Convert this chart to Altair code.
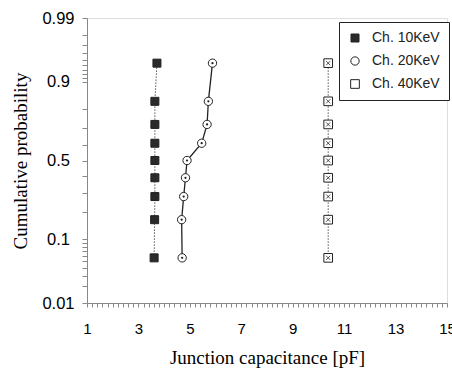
import altair as alt
import pandas as pd
from statistics import NormalDist

# ---- data ----
series = ["Ch. 10KeV", "Ch. 20KeV", "Ch. 40KeV"]
probs = [0.056, 0.167, 0.278, 0.389, 0.5, 0.611, 0.722, 0.833, 0.944]
cap_10 = [3.61, 3.63, 3.64, 3.64, 3.64, 3.64, 3.64, 3.64, 3.72]
cap_20 = [4.70, 4.68, 4.76, 4.83, 4.89, 5.46, 5.67, 5.72, 5.88]
cap_40 = [10.38, 10.38, 10.38, 10.38, 10.38, 10.38, 10.38, 10.38, 10.38]

y_major = [0.01, 0.1, 0.5, 0.9, 0.99]
y_minor = [0.02, 0.03, 0.04, 0.05, 0.06, 0.07, 0.08, 0.09,
           0.2, 0.3, 0.4, 0.6, 0.7, 0.8,
           0.91, 0.92, 0.93, 0.94, 0.95, 0.96, 0.97, 0.98]
x_labels = [1, 3, 5, 7, 9, 11, 13, 15]

nd = NormalDist()
rows = []
for s, caps in zip(series, [cap_10, cap_20, cap_40]):
    for i, (p, c) in enumerate(zip(probs, caps)):
        rows.append({"series": s, "p": p, "cap": c, "order": i})
df = pd.DataFrame(rows)

z_lo, z_hi = nd.inv_cdf(0.01), nd.inv_cdf(0.99)
y_vals = sorted([nd.inv_cdf(p) for p in y_major + y_minor])
label_expr = ""
for p in y_major:
    label_expr += f"abs(datum.value - ({nd.inv_cdf(p):.6f})) < 0.001 ? '{p}' : "
label_expr += "''"

x_vals = [round(1 + 0.2 * i, 1) for i in range(71)]
x_label_expr = ("indexof([" + ",".join(str(v) for v in x_labels) +
                "], round(datum.value*10)/10) >= 0 ? format(datum.value, 'd') : ''")

ink = "#222222"

x_enc = alt.X("cap:Q", scale=alt.Scale(domain=[1, 15], nice=False, zero=False),
              axis=alt.Axis(values=x_vals, labelExpr=x_label_expr, tickSize=4,
                            labelBaseline="alphabetic", labelPadding=26,
                            labelFontSize=15, labelFont="Liberation Sans",
                            labelFlush=False, labelOverlap=False, grid=False,
                            title="Junction capacitance [pF]", titleFont="Liberation Serif",
                            titleFontSize=19, titleFontWeight="normal",
                            titleBaseline="alphabetic", titleY=60))
y_enc = alt.Y("z:Q", scale=alt.Scale(domain=[z_lo, z_hi], nice=False, zero=False),
              axis=alt.Axis(values=y_vals, labelExpr=label_expr, tickSize=5,
                            labelAlign="center", labelPadding=24, labelFontSize=16.5,
                            labelFont="Liberation Sans", labelFlush=False,
                            labelOverlap=False, grid=False,
                            title="Cumulative probability", titleFont="Liberation Serif",
                            titleFontSize=19, titleFontWeight="normal",
                            titleX=-67, titleY=142.5, titleAngle=270,
                            titleBaseline="middle"))

legend = alt.Legend(title=None, orient="none", legendX=252, legendY=4,
                    strokeColor=ink, fillColor="white", padding=9, rowPadding=9,
                    labelFontSize=14, labelFont="Liberation Sans", labelColor=ink,
                    labelOffset=10, cornerRadius=0, symbolStrokeWidth=1)

base = alt.Chart(df).transform_calculate(z="quantileNormal(datum.p)")

line10 = base.transform_filter(alt.datum.series == series[0]).mark_line(
    color="#555555", strokeWidth=1, strokeDash=[1.5, 1.5]).encode(x=x_enc, y=y_enc, order="order:Q")
line20 = base.transform_filter(alt.datum.series == series[1]).mark_line(
    color=ink, strokeWidth=1.3).encode(x=x_enc, y=y_enc, order="order:Q")
line40 = base.transform_filter(alt.datum.series == series[2]).mark_line(
    color="#555555", strokeWidth=1, strokeDash=[1.5, 1.5]).encode(x=x_enc, y=y_enc, order="order:Q")

points = base.mark_point(filled=True, stroke=ink, strokeWidth=1, opacity=1).encode(
    x=x_enc, y=y_enc,
    shape=alt.Shape("series:N", scale=alt.Scale(domain=series, range=["square", "circle", "square"]),
                    legend=legend),
    fill=alt.Fill("series:N", scale=alt.Scale(domain=series, range=["#2a2a2a", "white", "white"]),
                  legend=legend),
    size=alt.Size("series:N", scale=alt.Scale(domain=series, range=[64, 75, 45]), legend=legend),
)

dots = base.transform_filter(alt.datum.series == series[1]).mark_point(
    filled=True, shape="circle", size=5, color=ink, opacity=1).encode(x=x_enc, y=y_enc)
crosses = base.transform_filter(alt.datum.series == series[2]).mark_point(
    filled=False, shape="M-0.6,-0.6L0.6,0.6M-0.6,0.6L0.6,-0.6", size=45,
    stroke=ink, strokeWidth=0.8, opacity=1).encode(x=x_enc, y=y_enc)

chart = alt.layer(line10, line20, line40, points, dots, crosses).properties(
    width=360, height=285,
    padding={"left": 87, "top": 18, "right": 5, "bottom": 72},
    autosize=alt.AutoSizeParams(type="none"),
).configure_view(stroke=ink, strokeWidth=1).configure_axis(
    domainColor=ink, tickColor=ink, labelColor=ink, titleColor=ink
).configure(background="white")

chart.save("out.html", embed_options={"renderer": "svg", "actions": False})
